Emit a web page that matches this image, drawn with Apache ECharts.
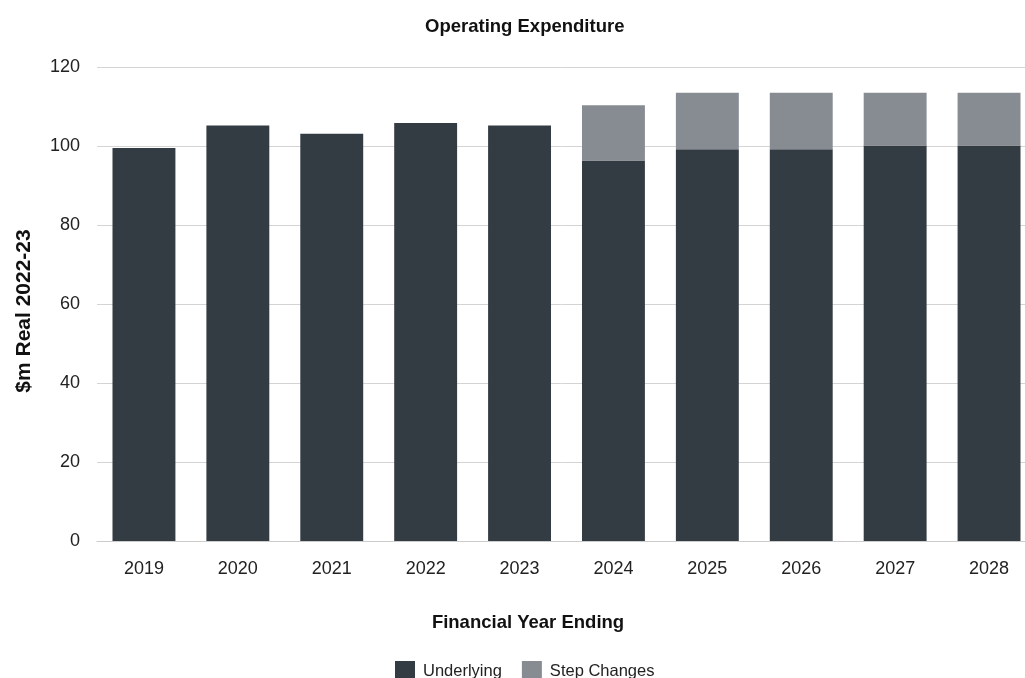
<!DOCTYPE html>
<html>
<head>
<meta charset="utf-8">
<script src="https://cdn.jsdelivr.net/npm/echarts@6/dist/echarts.min.js"></script>
<style>
html,body{margin:0;padding:0;background:#fff;}
#chart{width:1025px;height:678px;}
</style>
</head>
<body>
<div id="chart"></div>
<script>
const categories = ['2019','2020','2021','2022','2023','2024','2025','2026','2027','2028'];
const underlying = [99.5, 105.2, 103.1, 105.8, 105.2, 96.3, 99.2, 99.2, 100.1, 100.1];
const stepChanges = [0, 0, 0, 0, 0, 14.0, 14.3, 14.3, 13.4, 13.4];
const yTicks = [0, 20, 40, 60, 80, 100, 120];

const chart = echarts.init(document.getElementById('chart'));
const font = 'Liberation Sans, Arial, Helvetica, sans-serif';
chart.setOption({
  animation: false,
  textStyle: { fontFamily: font },
  title: {
    text: 'Operating Expenditure',
    left: 420,
    top: 12,
    textStyle: { fontFamily: font, fontSize: 18.5, fontWeight: 'bold', color: '#111' }
  },
  legend: {
    bottom: -8,
    left: 390,
    itemWidth: 20,
    itemHeight: 20,
    itemGap: 20,
    icon: 'rect',
    textStyle: { fontFamily: font, fontSize: 16.5, color: '#222', padding: [0, 0, 0, 3] },
    data: ['Underlying', 'Step Changes']
  },
  grid: { left: 97, width: 939, top: 67, height: 474, outerBoundsMode: 'none' },
  xAxis: {
    type: 'category',
    data: categories,
    name: 'Financial Year Ending',
    nameLocation: 'middle',
    nameGap: 72,
    nameTextStyle: { fontFamily: font, fontSize: 18.5, fontWeight: 'bold', color: '#111', padding: [0, 77, 0, 0] },
    axisLine: { lineStyle: { color: '#ccc' } },
    axisTick: { show: false },
    axisLabel: { fontFamily: font, fontSize: 18, color: '#222', margin: 19 }
  },
  yAxis: {
    type: 'value',
    min: yTicks[0],
    max: yTicks[yTicks.length - 1],
    interval: 20,
    name: '$m Real 2022-23',
    nameLocation: 'middle',
    nameGap: 62,
    nameRotate: 90,
    nameTextStyle: { fontFamily: font, fontSize: 21, fontWeight: 'bold', color: '#111', padding: [0, 14, 0, 0] },
    axisLine: { show: false },
    axisTick: { show: false },
    splitLine: { lineStyle: { color: '#d4d4d4' } },
    axisLabel: { fontFamily: font, fontSize: 18, color: '#222', margin: 17 }
  },
  series: [
    {
      name: 'Underlying',
      type: 'bar',
      stack: 'total',
      barWidth: '67%',
      itemStyle: { color: '#343c43' },
      data: underlying
    },
    {
      name: 'Step Changes',
      type: 'bar',
      stack: 'total',
      barWidth: '67%',
      itemStyle: { color: '#878b92' },
      data: stepChanges
    }
  ]
});
</script>
</body>
</html>
